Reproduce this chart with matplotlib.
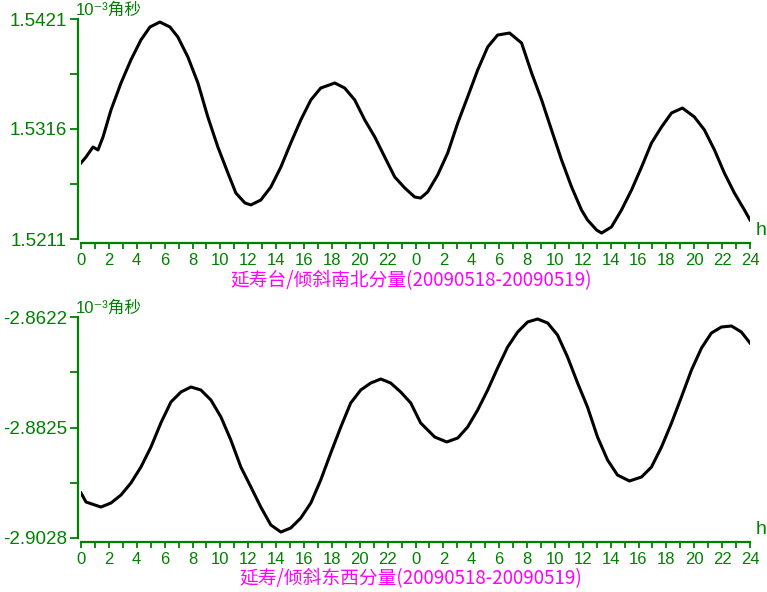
import matplotlib
matplotlib.use("Agg")
import matplotlib.pyplot as plt

plt.rcParams['font.family'] = ['Liberation Sans', 'Noto Sans CJK SC', 'DejaVu Sans']

GREEN = '#008000'
MAGENTA = '#ff00ff'

# 南北分量 (hours since 2009-05-18 00:00, 10^-3 arcsec)
ns_hours = [0.0, 0.36, 0.86, 1.22, 1.58, 2.15, 2.87, 3.58, 4.30, 4.95, 5.66, 6.38, 6.95,
            7.67, 8.39, 9.10, 9.82, 10.54, 11.11, 11.76, 12.19, 12.90, 13.62, 14.34, 15.05,
            15.77, 16.49, 17.20, 18.21, 18.92, 19.64, 20.36, 21.08, 21.79, 22.51, 23.23,
            23.94, 24.37, 24.87, 25.59, 26.31, 27.03, 27.74, 28.46, 29.18, 29.89, 30.75,
            31.61, 32.33, 33.05, 33.76, 34.48, 35.20, 35.91, 36.34, 36.99, 37.35, 38.06,
            38.78, 39.50, 40.22, 40.93, 41.65, 42.37, 43.15, 44.01, 44.73, 45.45, 46.16,
            46.88, 47.60, 48.0]
ns_values = [1.52836, 1.52893, 1.52988, 1.52960, 1.53084, 1.53341, 1.53599, 1.53819,
             1.54010, 1.54134, 1.54181, 1.54134, 1.54038, 1.53847, 1.53599, 1.53275,
             1.52988, 1.52740, 1.52549, 1.52454, 1.52435, 1.52482, 1.52606, 1.52797,
             1.53026, 1.53246, 1.53437, 1.53551, 1.53599, 1.53551, 1.53437, 1.53246,
             1.53084, 1.52893, 1.52702, 1.52597, 1.52511, 1.52501, 1.52559, 1.52721,
             1.52931, 1.53217, 1.53466, 1.53723, 1.53943, 1.54057, 1.54076, 1.53981,
             1.53695, 1.53437, 1.53151, 1.52864, 1.52606, 1.52387, 1.52292, 1.52196,
             1.52167, 1.52225, 1.52387, 1.52578, 1.52797, 1.53026, 1.53179, 1.53313,
             1.53360, 1.53275, 1.53151, 1.52960, 1.52740, 1.52549, 1.52387, 1.52292]

# 东西分量
ew_hours = [0.0, 0.36, 1.00, 1.43, 2.15, 2.87, 3.58, 4.30, 5.02, 5.73, 6.45, 7.17, 7.89,
            8.60, 9.32, 10.04, 10.75, 11.47, 12.19, 12.90, 13.62, 14.34, 15.05, 15.77,
            16.49, 17.20, 17.92, 18.64, 19.35, 20.07, 20.79, 21.51, 22.22, 22.94, 23.66,
            24.37, 24.66, 25.38, 26.24, 27.03, 27.74, 28.46, 29.18, 29.89, 30.61, 31.33,
            32.04, 32.76, 33.48, 34.19, 34.91, 35.63, 36.34, 37.06, 37.78, 38.49, 39.35,
            40.22, 40.93, 41.65, 42.37, 43.08, 43.80, 44.52, 45.23, 45.95, 46.67, 47.38,
            48.0]
ew_values = [-2.89453, -2.89619, -2.89674, -2.89711, -2.89637, -2.89490, -2.89270,
             -2.88976, -2.88608, -2.88167, -2.87782, -2.87598, -2.87506, -2.87561,
             -2.87745, -2.88057, -2.88480, -2.88976, -2.89343, -2.89711, -2.90041,
             -2.90170, -2.90096, -2.89913, -2.89637, -2.89215, -2.88719, -2.88241,
             -2.87800, -2.87561, -2.87433, -2.87359, -2.87433, -2.87598, -2.87800,
             -2.88167, -2.88241, -2.88425, -2.88516, -2.88443, -2.88241, -2.87929,
             -2.87561, -2.87157, -2.86771, -2.86496, -2.86312, -2.86257, -2.86330,
             -2.86551, -2.86955, -2.87433, -2.87873, -2.88425, -2.88847, -2.89123,
             -2.89233, -2.89159, -2.88976, -2.88608, -2.88167, -2.87690, -2.87194,
             -2.86790, -2.86514, -2.86404, -2.86385, -2.86496, -2.86698]

x_ticks = list(range(0, 49, 2))
x_tick_labels = ['0', '2', '4', '6', '8', '10', '12', '14', '16', '18', '20', '22',
                 '0', '2', '4', '6', '8', '10', '12', '14', '16', '18', '20', '22', '24']

ns_yticks = [1.5211, 1.5316, 1.5421]
ew_yticks = [-2.9028, -2.8825, -2.8622]

W, H = 767, 592
fig = plt.figure(figsize=(W / 100, H / 100), dpi=100)


def panel(top_px, bottom_px, hours, values, yticks, title, title_y):
    ax = fig.add_axes([81 / W, 1 - bottom_px / H, (750 - 81) / W, (bottom_px - top_px) / H])
    ax.plot(hours, values, color='black', lw=2.2, solid_joinstyle='round')
    ax.set_xlim(0, 48)
    ax.set_ylim(yticks[0], yticks[-1])
    for s in ['top', 'right']:
        ax.spines[s].set_visible(False)
    ax.spines['left'].set_position(('outward', 2))
    ax.spines['bottom'].set_position(('outward', 3))
    for s in ['left', 'bottom']:
        ax.spines[s].set_color(GREEN)
        ax.spines[s].set_linewidth(1.6)
    ax.set_xticks(x_ticks)
    ax.set_xticklabels(x_tick_labels)
    ax.set_xticks(range(0, 49), minor=True)
    ax.set_yticks(yticks)
    ax.set_yticklabels(['%.4f' % v for v in yticks])
    ax.set_yticks([(yticks[0] + yticks[1]) / 2, (yticks[1] + yticks[2]) / 2], minor=True)
    ax.tick_params(axis='x', which='both', direction='out', length=4, width=1.3,
                   color=GREEN, labelcolor=GREEN, labelsize=12, pad=3)
    ax.tick_params(axis='y', which='both', direction='out', length=6, width=1.3,
                   color=GREEN, labelcolor=GREEN, labelsize=13.5, pad=2)
    ax.text(-0.008, 1.005, '10⁻³角秒', transform=ax.transAxes, color=GREEN, fontsize=12,
            va='bottom', ha='left')
    ax.text(1.008, 0.0, 'h', transform=ax.transAxes, color=GREEN, fontsize=14,
            va='bottom', ha='left')
    fig.text(411 / W, 1 - title_y / H, title, color=MAGENTA, fontsize=13.5,
             ha='center', va='center', family=['Noto Sans CJK SC', 'DejaVu Sans'])
    return ax


panel(19, 239, ns_hours, ns_values, ns_yticks, '延寿台/倾斜南北分量(20090518-20090519)', 281)
panel(317, 538, ew_hours, ew_values, ew_yticks, '延寿/倾斜东西分量(20090518-20090519)', 579)

fig.savefig('out.png', dpi=100)
